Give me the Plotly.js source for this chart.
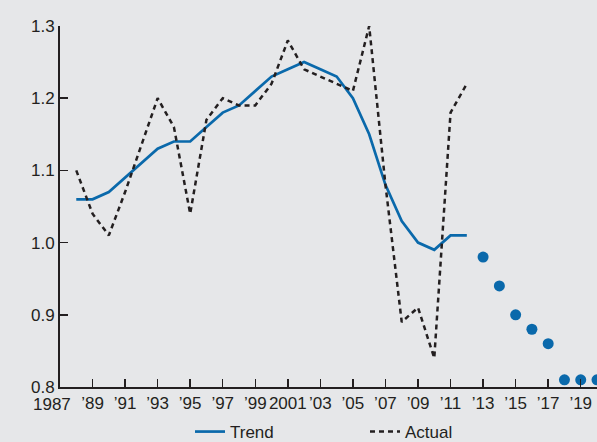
<!DOCTYPE html>
<html>
<head>
<meta charset="utf-8">
<script src="https://cdn.plot.ly/plotly-3.0.1.min.js"></script>
<style>
html,body{margin:0;padding:0;background:#e6e7e9;}
#chart{width:597px;height:442px;}
</style>
</head>
<body>
<div id="chart"></div>
<script>
// Data
var years = [1988,1989,1990,1991,1992,1993,1994,1995,1996,1997,1998,1999,2000,2001,2002,2003,2004,2005,2006,2007,2008,2009,2010,2011,2012];
var trend = [1.06,1.06,1.07,1.09,1.11,1.13,1.14,1.14,1.16,1.18,1.19,1.21,1.23,1.24,1.25,1.24,1.23,1.20,1.15,1.08,1.03,1.00,0.99,1.01,1.01];
var actual = [1.10,1.04,1.01,1.07,1.135,1.20,1.16,1.04,1.17,1.20,1.19,1.19,1.22,1.28,1.24,1.23,1.22,1.21,1.30,1.08,0.89,0.91,0.84,1.18,1.22];
var projYears = [2013,2014,2015,2016,2017,2018,2019,2020];
var projection = [0.98,0.94,0.90,0.88,0.86,0.81,0.81,0.81];
var tickYears = [1987,1989,1991,1993,1995,1997,1999,2001,2003,2005,2007,2009,2011,2013,2015,2017,2019];
var tickLabels = ['1987','\u201989','\u201991','\u201993','\u201995','\u201997','\u201999','2001','\u201903','\u201905','\u201907','\u201909','\u201911','\u201913','\u201915','\u201917','\u201919'];
var yTicks = [0.8,0.9,1.0,1.1,1.2,1.3];

var blue = '#0a69ab';
var ink = '#231f20';
var font = 'Liberation Sans, Arial, Helvetica, sans-serif';

var traces = [
  {x: years, y: trend, type: 'scatter', mode: 'lines', name: 'Trend',
   line: {color: blue, width: 2.7}},
  {x: years, y: actual, type: 'scatter', mode: 'lines', name: 'Actual',
   line: {color: ink, width: 2.5, dash: '5px,4px'}},
  {x: projYears, y: projection, type: 'scatter', mode: 'markers', name: 'Projection',
   showlegend: false, marker: {color: blue, size: 11}}
];

// first tick label is drawn as a shifted annotation (as in the reference it sits left of its tick)
var axisText = tickLabels.slice();
axisText[0] = '';

var layout = {
  width: 597, height: 442,
  paper_bgcolor: '#e6e7e9', plot_bgcolor: '#e6e7e9',
  margin: {l: 60, r: 0, t: 26, b: 55, autoexpand: false},
  font: {family: font, size: 17, color: ink},
  showlegend: true,
  legend: {orientation: 'h', x: (190 - 60) / 537, xanchor: 'left', y: -0.1247, yanchor: 'middle',
           font: {family: font, size: 17, color: ink}, bgcolor: 'rgba(0,0,0,0)',
           entrywidth: 130, entrywidthmode: 'pixels'},
  xaxis: {range: [1987, 2020], showgrid: false, zeroline: false, showline: true,
          linecolor: ink, linewidth: 2, ticks: 'inside', ticklen: 8, tickwidth: 1.5,
          tickcolor: ink, tickvals: tickYears, ticktext: axisText, tickangle: 0,
          tickfont: {family: font, size: 17, color: ink}, fixedrange: true},
  yaxis: {range: [0.8, 1.3], showgrid: false, zeroline: false, showline: true,
          linecolor: ink, linewidth: 2, ticks: 'inside', ticklen: 8, tickwidth: 1.5,
          tickcolor: ink, tickvals: yTicks, tickformat: '.1f',
          tickfont: {family: font, size: 17, color: ink}, fixedrange: true},
  annotations: [{x: tickYears[0], xref: 'x', y: 0, yref: 'paper', text: tickLabels[0],
                 showarrow: false, xanchor: 'center', yanchor: 'top', xshift: -8, yshift: -7,
                 borderpad: 0, font: {family: font, size: 17, color: ink}}]
};

Plotly.newPlot('chart', traces, layout, {displayModeBar: false, staticPlot: true});
</script>
</body>
</html>
